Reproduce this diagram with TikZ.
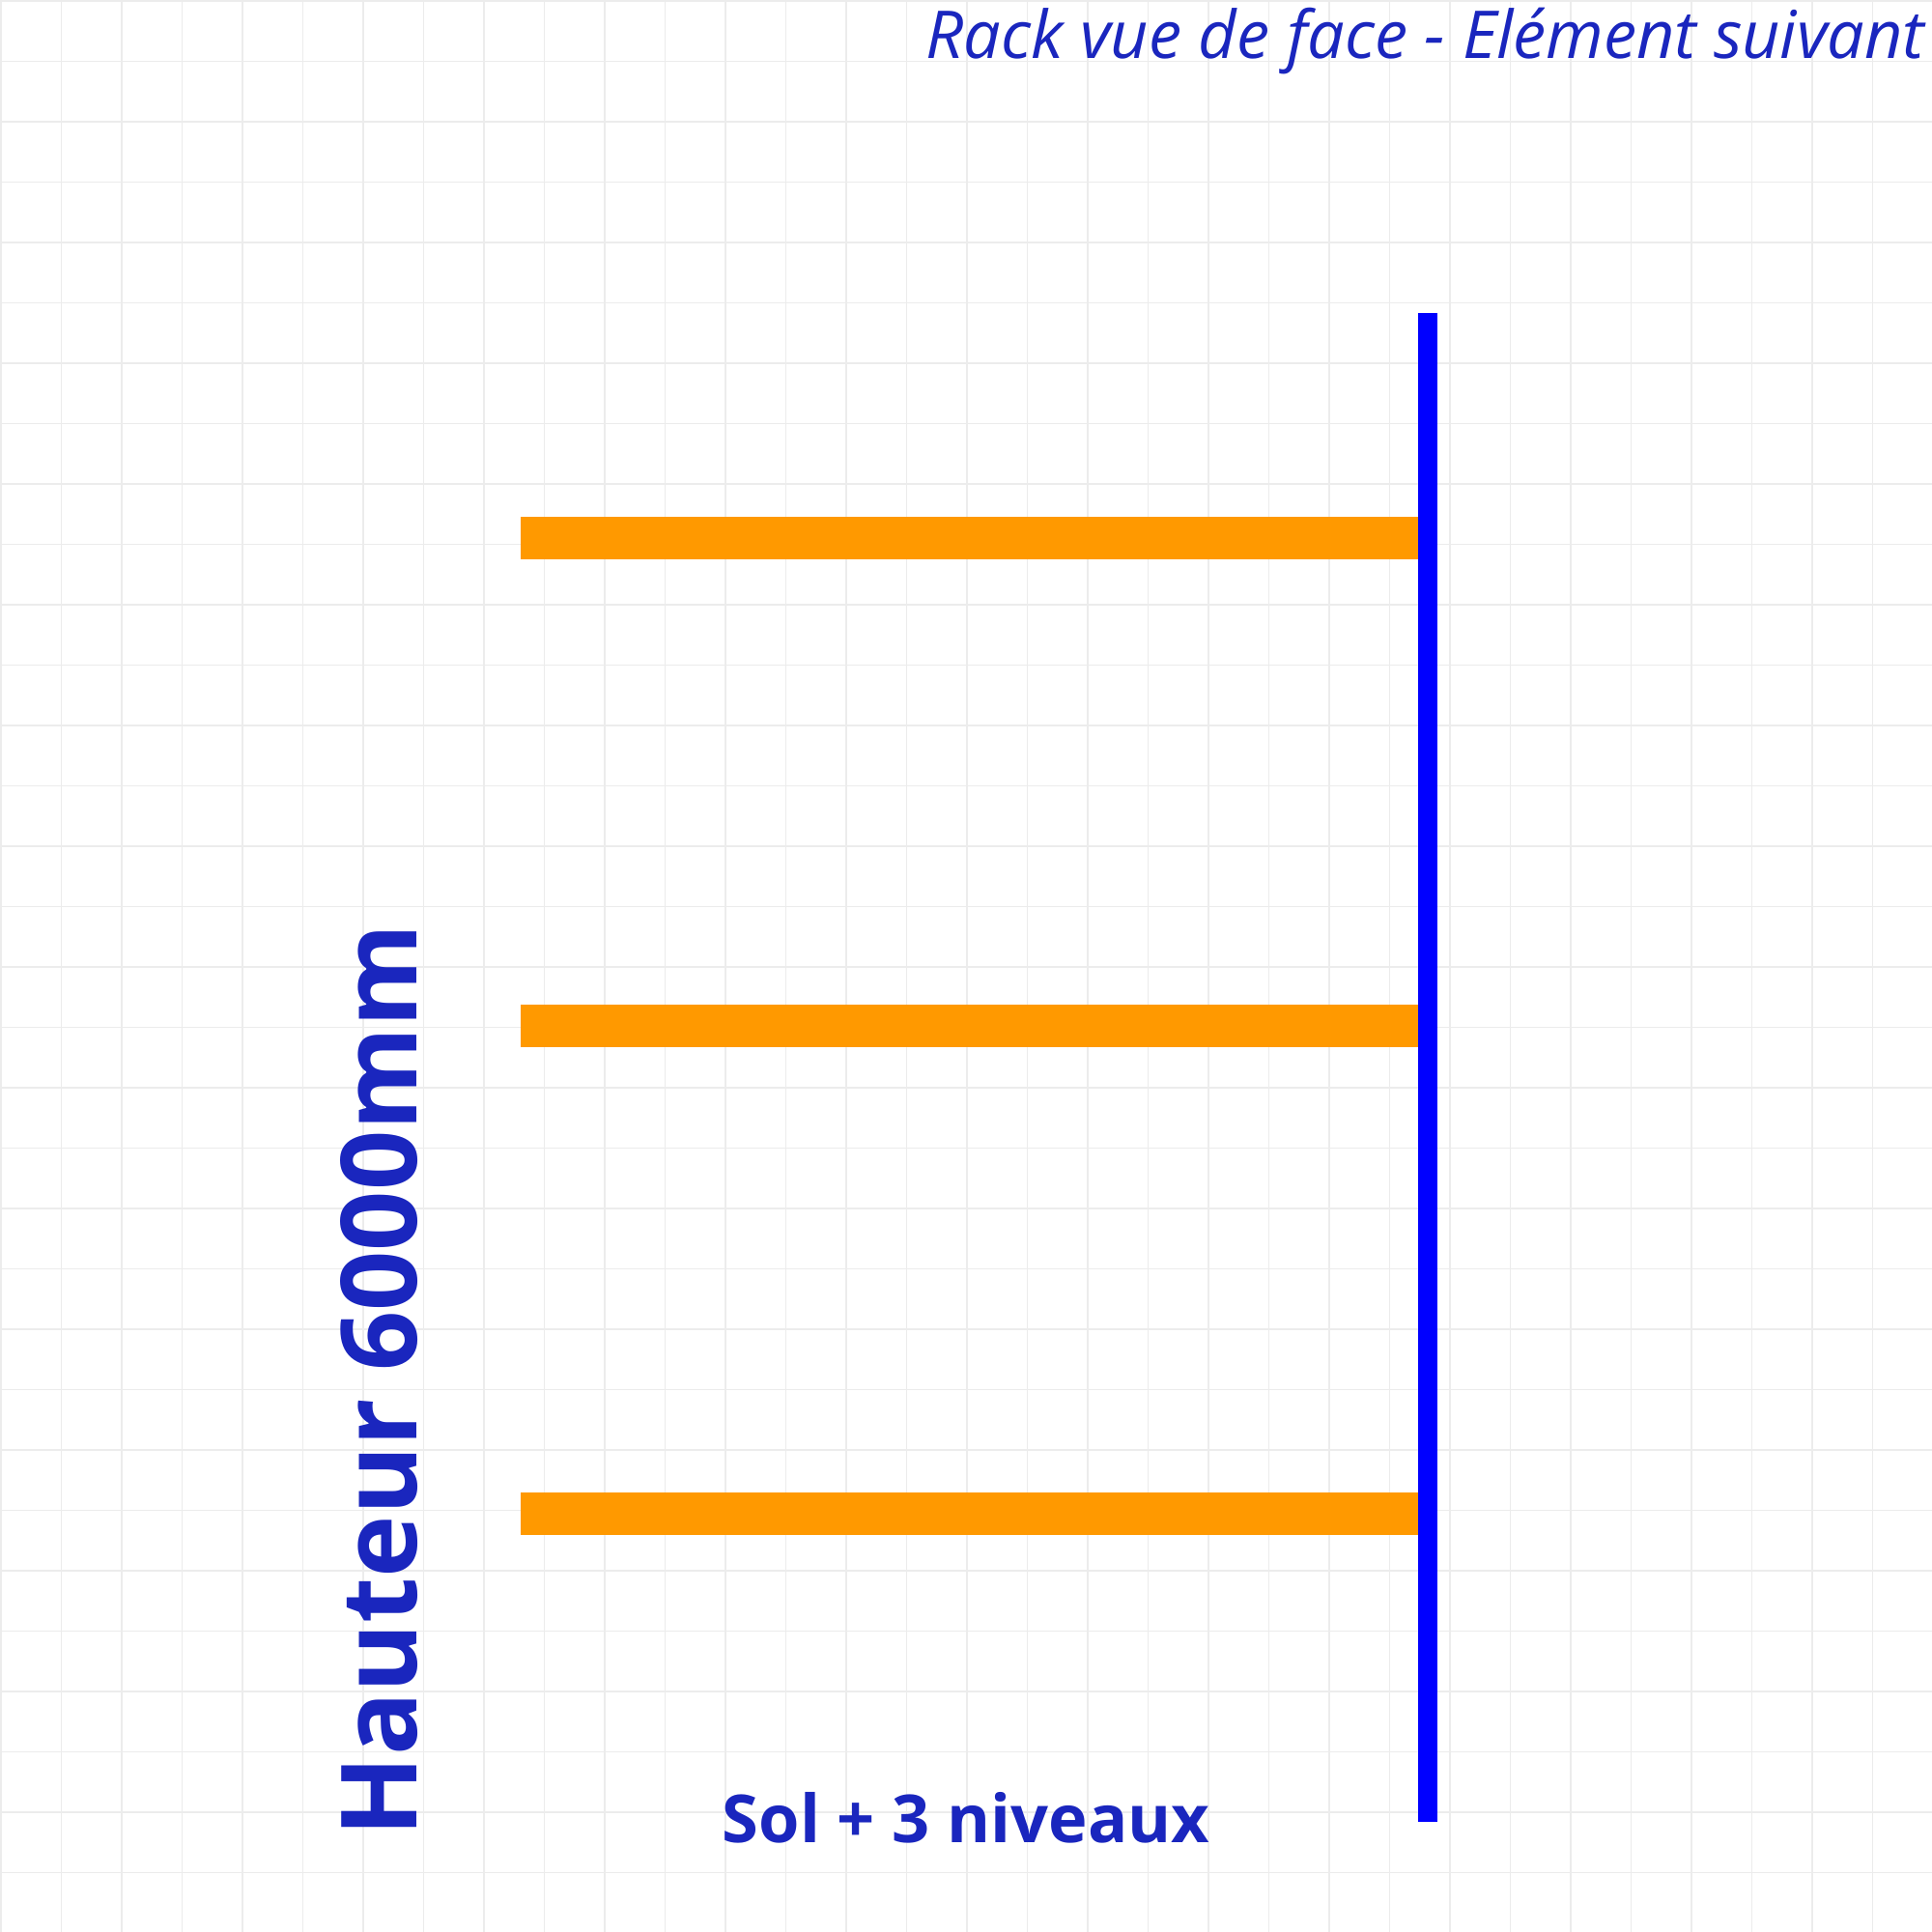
\documentclass[tikz,border=0pt]{standalone}
\usepackage{fontspec}
\setmainfont{Open Sans}
\definecolor{gridgray}{RGB}{236,236,236}
\definecolor{labelblue}{RGB}{26,38,190}
\definecolor{uprightblue}{RGB}{0,0,255}
\definecolor{beamorange}{RGB}{255,153,0}
\tikzset{
  gridline/.style={draw=gridgray, line width=0.45pt},
  upright/.style={draw=uprightblue, line width=0.2cm},
  beam/.style={draw=beamorange, line width=0.44cm},
  label/.style={inner sep=0pt, text=labelblue}
}
\begin{document}
\begin{tikzpicture}
      \useasboundingbox (0,0) rectangle (20,20);
      \fill[white] (0,0) rectangle (20,20);
      \foreach \k in {0,...,32} {
        \draw[gridline] ({0.01+0.625*\k},0) -- ({0.01+0.625*\k},20);
        \draw[gridline] (0,{19.99-0.625*\k}) -- (20,{19.99-0.625*\k});
      }
      \coordinate (top) at (14.78,16.76);
      \coordinate (foot) at (14.78,1.14);
      \begin{scope}[line cap=butt]
        \draw[beam] (5.39,14.425) -- (14.70,14.425);
        \draw[beam] (5.39,9.375) -- (14.70,9.375);
        \draw[beam] (5.39,4.325) -- (14.70,4.325);
        \draw[upright] (top) -- (foot);
      \end{scope}
      \node[label, anchor=base east, font=\fontsize{19.45pt}{23pt}\itshape]
        (titre) at (19.93,19.39) {Rack vue de face - Elément suivant};
      \node[label, anchor=base, font=\fontsize{19.5pt}{24pt}\bfseries]
        (niveaux) at (10.0,0.93) {Sol + 3 niveaux};
      \node[label, anchor=base west, rotate=90, font=\fontsize{31pt}{37pt}\bfseries]
        (hauteur) at (4.31,0.98) {Hauteur 6000mm};
    \end{tikzpicture}
\end{document}
